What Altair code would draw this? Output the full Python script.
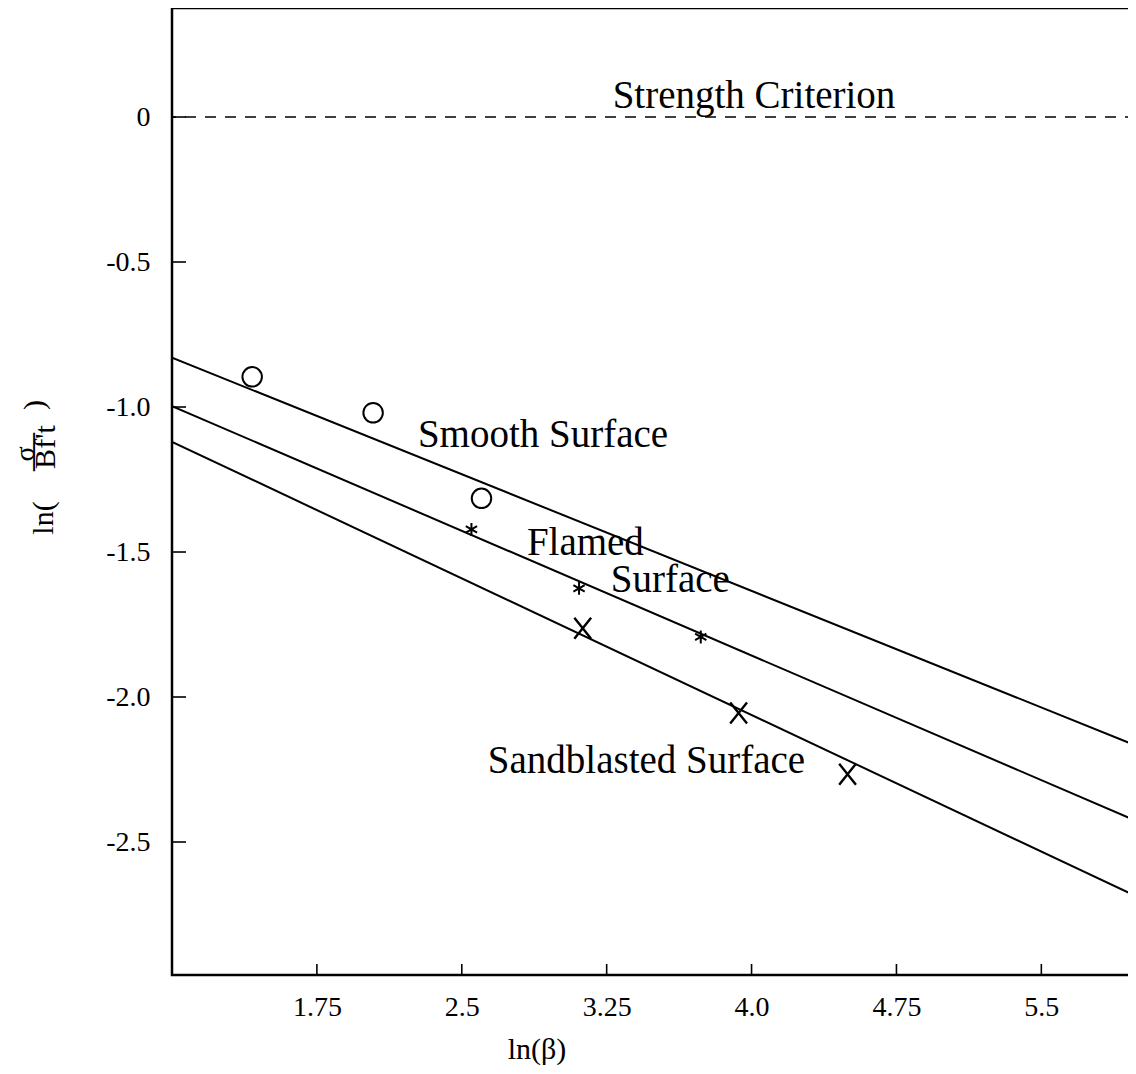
import altair as alt
import pandas as pd

# ---- data ----
x_ticks = [1.75, 2.5, 3.25, 4.0, 4.75, 5.5]
y_ticks = [0.0, -0.5, -1.0, -1.5, -2.0, -2.5]

smooth_x = [1.415, 2.041, 2.602]
smooth_y = [-0.896, -1.020, -1.315]
flamed_x = [2.550, 3.107, 3.737]
flamed_y = [-1.422, -1.625, -1.793]
sand_x = [3.126, 3.933, 4.497]
sand_y = [-1.763, -2.055, -2.266]

fit_x = [1.0, 6.0]
smooth_fit = [-0.83, -2.17]
flamed_fit = [-0.997, -2.43]
sand_fit = [-1.12, -2.69]

criterion_y = [0.0]

label_text = ["Strength Criterion", "Smooth Surface", "Flamed", "Surface", "Sandblasted Surface"]
label_x = [3.281, 2.273, 2.837, 3.271, 2.635]
label_y = [0.0724, -1.0966, -1.469, -1.597, -2.221]

X_DOMAIN = [1.0, 5.99]
Y_DOMAIN = [-2.9586, 0.3759]
FONT = "Liberation Serif"

xs = alt.Scale(domain=X_DOMAIN, nice=False, zero=False)
ys = alt.Scale(domain=Y_DOMAIN, nice=False, zero=False)

x_axis = alt.Axis(values=x_ticks, grid=False, ticks=False, domain=False,
                  labelFont=FONT, labelFontSize=28, labelColor="black",
                  labelPadding=18, title=None,
                  labelExpr="datum.value == 4 ? '4.0' : '' + datum.value")
y_axis = alt.Axis(values=y_ticks, grid=False, ticks=False, domain=False,
                  labelFont=FONT, labelFontSize=28, labelColor="black",
                  labelPadding=22, title=None,
                  labelExpr="datum.value == 0 ? '0' : replace(format(datum.value, '.1f'), '\u2212', '-')")

fit_df = pd.DataFrame({
    "x": fit_x * 3,
    "y": smooth_fit + flamed_fit + sand_fit,
    "s": ["Smooth"] * 2 + ["Flamed"] * 2 + ["Sand"] * 2,
})
smooth_df = pd.DataFrame({"x": smooth_x, "y": smooth_y})
flamed_df = pd.DataFrame({"x": flamed_x, "y": flamed_y})
sand_df = pd.DataFrame({"x": sand_x, "y": sand_y})
crit_df = pd.DataFrame({"y": criterion_y})
lab_df = pd.DataFrame({"t": label_text, "x": label_x, "y": label_y})
xt_df = pd.DataFrame({"v": x_ticks})
yt_df = pd.DataFrame({"v": y_ticks})

base_axes = alt.Chart(fit_df).mark_line(color="black", strokeWidth=2, clip=True).encode(
    x=alt.X("x:Q", scale=xs, axis=x_axis),
    y=alt.Y("y:Q", scale=ys, axis=y_axis),
    detail="s:N",
)

crit = alt.Chart(crit_df).mark_rule(color="black", strokeWidth=1.6, strokeDash=[11, 9]).encode(
    y=alt.Y("y:Q", scale=ys)
)

circles = alt.Chart(smooth_df).mark_point(shape="circle", size=380, filled=False,
                                           color="black", strokeWidth=2, opacity=1).encode(
    x=alt.X("x:Q", scale=xs), y=alt.Y("y:Q", scale=ys))

asterisk = "M0,-1L0,1M-0.87,-0.5L0.87,0.5M-0.87,0.5L0.87,-0.5"
stars = alt.Chart(flamed_df).mark_point(shape=asterisk, size=169, filled=False,
                                         color="black", strokeWidth=2, opacity=1).encode(
    x=alt.X("x:Q", scale=xs), y=alt.Y("y:Q", scale=ys))

xpath = "M-0.8,-1L0.8,1M0.8,-1L-0.8,1"
crosses = alt.Chart(sand_df).mark_point(shape=xpath, size=441, filled=False,
                                         color="black", strokeWidth=2.4, opacity=1).encode(
    x=alt.X("x:Q", scale=xs), y=alt.Y("y:Q", scale=ys))

labels = alt.Chart(lab_df).mark_text(font=FONT, fontSize=39, align="left", baseline="middle",
                                      color="black").encode(
    x=alt.X("x:Q", scale=xs), y=alt.Y("y:Q", scale=ys), text="t:N")

# inward tick marks, placed through the scales
xticks_layer = alt.Chart(xt_df).mark_rule(color="black", strokeWidth=1.6).encode(
    x=alt.X("v:Q", scale=xs), y=alt.value(967), y2=alt.value(956))
yticks_layer = alt.Chart(yt_df).mark_rule(color="black", strokeWidth=1.6).encode(
    y=alt.Y("v:Q", scale=ys), x=alt.value(0), x2=alt.value(14))

# axis titles
xtitle = alt.Chart(pd.DataFrame({"t": ["ln(\u03b2)"]})).mark_text(
    font=FONT, fontSize=30, color="black", align="center", baseline="middle").encode(
    text="t:N", x=alt.value(365), y=alt.value(1042))

ytitle_parts = pd.DataFrame({
    "t": ["ln(", "Bf't", ")", "\u03c3", "\u2014"],
    "px": [-128, -126, -137, -146, -140],
    "py": [510, 439, 397, 446, 444],
    "fs": [30, 30, 30, 28, 38],
})
ytitle = alt.Chart(ytitle_parts).mark_text(
    font=FONT, color="black", align="center", baseline="middle", angle=270).encode(
    text="t:N",
    x=alt.X("px:Q", scale=None),
    y=alt.Y("py:Q", scale=None),
    size=alt.Size("fs:Q", scale=None, legend=None),
)

chart = alt.layer(
    base_axes, crit, circles, stars, crosses, labels, xticks_layer, yticks_layer, xtitle, ytitle
).properties(
    width=964, height=967,
    autosize=alt.AutoSizeParams(type="none"),
    padding={"left": 164, "top": 0, "right": -8, "bottom": 91},
    background="white",
).configure_view(stroke="black", strokeWidth=2.5)

chart.save("out.html", embed_options={"renderer": "svg", "actions": False})
